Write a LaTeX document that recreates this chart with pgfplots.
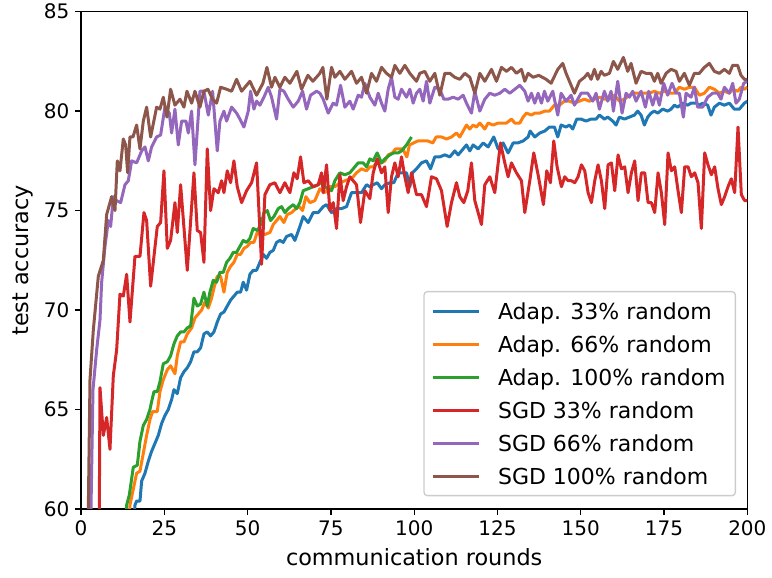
\documentclass[border=0pt]{standalone}
\usepackage{fontspec}
\setmainfont{DejaVu Sans}
\usepackage{pgfplots}
\pgfplotsset{compat=1.18}
\definecolor{c0}{HTML}{1F77B4}
\definecolor{c1}{HTML}{FF7F0E}
\definecolor{c2}{HTML}{2CA02C}
\definecolor{c3}{HTML}{D62728}
\definecolor{c4}{HTML}{9467BD}
\definecolor{c5}{HTML}{8C564B}
\begin{document}
\begin{tikzpicture}
\begin{axis}[
  scale only axis, width=399.8pt, height=298.4pt,
  xmin=0, xmax=200, ymin=60, ymax=85,
  xtick={0,25,...,200}, ytick={60,65,...,85},
  tick pos=left, tick align=outside, major tick length=3.5pt,
  every tick/.style={black, line width=0.8pt},
  axis line style={line width=0.8pt},
  /pgf/number format/assume math mode=true,
  ticklabel style={font=\fontsize{12}{14}\selectfont},
  xlabel={communication rounds}, ylabel={test accuracy},
  label style={font=\fontsize{13.4}{16}\selectfont},
  xlabel style={at={(axis description cs:0.5,-0.0965)}, anchor=center},
  ylabel style={at={(axis description cs:-0.087,0.5)}, anchor=center},
  legend style={at={(1,0)}, anchor=south east, xshift=-6.8pt, yshift=7.6pt,
    draw=black!20, line width=0.8pt, rounded corners=2pt, fill=white,
    font=\fontsize{13.2}{16}\selectfont, inner xsep=4.2pt, inner ysep=1.8pt,
    column sep=8.8pt,
    nodes={inner xsep=1.6pt, inner ysep=5pt, text height=9.8pt, text depth=0pt}},
  legend cell align=left,
  legend image code/.code={\draw[#1] (0pt,0pt) -- (28pt,0pt);},
  every axis plot/.append style={line width=1.8pt, line join=round},
]
\addplot[c0] coordinates {(14,55) (16.2,60.2) (16.7,60.4) (17.7,60.4) (18.2,61.4) (19.2,61.8) (20.2,62.4) (21.2,62.9) (22.2,63.3) (23.2,63.7) (24.2,64.3) (25.2,64.7) (26.2,65.0) (27.2,65.5) (27.9,66.0) (28.9,65.8) (29.9,66.6) (30.9,66.9) (31.9,67.1) (32.9,67.4) (33.9,67.9) (34.9,67.9) (35.9,68.1) (36.9,68.8) (37.9,68.9) (38.9,68.7) (39.9,68.9) (40.9,69.4) (41.9,69.8) (42.9,69.9) (43.9,70.2) (44.9,70.5) (45.9,70.7) (46.9,70.9) (47.9,70.9) (48.7,71.4) (49.7,71.0) (50.7,71.8) (51.7,72.0) (52.7,72.0) (53.7,72.4) (54.7,72.8) (55.7,72.6) (56.7,72.9) (57.7,73.0) (58.7,73.4) (59.7,73.5) (60.7,73.4) (61.7,73.7) (63.2,73.8) (64.2,73.5) (65.7,74.2) (66.7,74.7) (68.2,74.4) (69.7,74.9) (71.2,74.9) (72.7,75.2) (73.7,75.3) (75.2,74.9) (76.7,75.1) (78.2,75.1) (79.7,75.2) (81.2,75.9) (82.7,75.9) (84.2,75.9) (85.7,76.3) (86.7,76.2) (87.7,76.3) (88.9,76.4) (90.2,76.1) (91.2,76.3) (92.7,76.4) (93.9,76.4) (95.2,76.9) (96.5,76.9) (97.7,76.9) (98.7,76.2) (99.5,76.9) (100.7,77.1) (102.2,77.4) (103.7,77.5) (104.9,77.1) (106.2,77.7) (107.7,77.7) (109.2,77.8) (110.7,77.7) (112.2,78.0) (113.2,77.8) (114.7,78.1) (115.7,78.3) (116.7,78.0) (117.7,78.3) (119.2,78.1) (120.7,78.4) (122.2,78.2) (123.9,78.7) (125.2,78.1) (126.7,78.4) (128.2,77.9) (129.7,78.4) (131.1,78.4) (132.7,78.5) (134.2,78.7) (134.8,79.0) (136.2,78.7) (137.7,78.9) (139.2,79.0) (140.6,79.2) (142.1,79.2) (143.1,78.7) (144.1,79.3) (145.6,79.2) (146.6,79.3) (147.6,79.1) (148.8,79.6) (150.1,79.6) (151.6,79.5) (153.1,79.6) (154.6,79.6) (155.6,79.8) (157.1,79.6) (158.1,79.7) (159.6,79.5) (160.6,79.3) (161.6,79.7) (163.1,79.6) (164.6,79.7) (166.1,79.8) (167.1,80.0) (168.1,79.8) (169.1,79.3) (170.1,79.7) (171.1,79.9) (172.1,80.0) (173.1,79.9) (174.6,80.1) (176.1,80.0) (177.1,80.1) (178.1,80.3) (179.1,80.2) (180.6,80.4) (182.1,80.3) (183.1,80.4) (184.6,80.4) (185.6,80.3) (186.6,80.4) (188.1,80.3) (189.1,79.8) (190.1,80.2) (191.6,80.4) (193.1,80.3) (194.6,80.4) (196.1,80.1) (197.6,80.1) (199.1,80.4) (200,80.5)};
\addlegendentry{Adap. 33\% random}
\addplot[c1] coordinates {(13,56) (14.7,60.2) (15.7,61.0) (16.7,61.8) (17.7,61.9) (18.7,62.8) (19.7,63.7) (20.7,64.5) (21.5,64.9) (22.9,64.9) (23.7,65.9) (24.7,66.5) (25.9,67.0) (26.9,67.2) (28.2,66.8) (28.9,67.7) (29.9,68.4) (30.9,68.4) (31.9,68.8) (33.2,69.1) (34.2,69.6) (35.2,69.8) (36.2,70.0) (37.2,70.4) (38.2,70.1) (39.2,70.6) (39.9,71.1) (40.9,71.7) (41.9,71.7) (42.9,70.9) (43.9,71.9) (44.9,72.2) (45.9,72.4) (46.9,72.8) (47.9,72.8) (48.9,73.1) (49.9,73.2) (50.9,73.4) (51.9,73.4) (52.9,73.9) (53.7,73.8) (55.2,73.8) (56.7,73.9) (57.7,74.3) (58.7,74.5) (59.7,74.7) (60.9,74.4) (61.9,74.8) (63.2,74.9) (64.5,75.1) (65.5,75.2) (66.5,75.0) (67.5,75.7) (68.7,75.4) (70.2,75.5) (71.7,76.1) (73.2,75.9) (74.7,76.2) (76.2,76.2) (77.7,76.4) (79.2,76.5) (80.7,76.6) (81.7,76.7) (82.7,76.9) (84.2,77.1) (85.7,77.0) (86.7,77.2) (87.7,77.2) (88.7,77.4) (90.2,77.4) (91.2,77.5) (92.2,77.8) (93.5,77.9) (94.4,78.1) (95.4,78.1) (96.6,78.1) (97.8,77.7) (98.6,78.3) (99.8,78.4) (101.1,78.5) (102.6,78.5) (104.1,78.5) (105.6,78.4) (106.6,78.7) (108.2,78.7) (109.7,78.6) (111.2,78.7) (112.7,78.9) (113.7,78.7) (114.7,79.0) (115.7,79.3) (116.7,79.1) (117.7,79.3) (118.7,79.2) (119.7,79.4) (121.2,79.1) (122.2,79.4) (123.7,79.3) (125.2,79.4) (126.7,79.4) (127.7,79.4) (129.2,79.6) (130.2,79.4) (131.7,79.4) (132.7,79.7) (133.7,79.9) (135.2,79.8) (136.2,79.9) (137.7,79.9) (139.2,80.0) (140.6,80.0) (142.1,80.3) (143.6,80.3) (145.1,80.5) (146.6,80.5) (148.1,80.4) (149.6,80.5) (151.1,80.6) (152.6,80.5) (154.1,80.6) (155.6,80.7) (157.1,80.6) (158.6,80.6) (160.1,80.8) (161.6,80.5) (163.1,80.6) (164.6,80.8) (166.1,80.9) (167.6,80.9) (169.1,80.9) (170.6,80.9) (172.1,81.0) (173.6,80.9) (175.1,81.0) (176.6,80.9) (178.1,80.9) (179.6,81.2) (181.1,81.1) (182.6,81.2) (184.1,81.2) (185.6,80.8) (187.1,80.9) (188.6,81.2) (190.1,81.1) (191.6,80.9) (193.1,81.0) (194.6,80.9) (195.6,81.1) (197.1,81.0) (198.1,81.2) (199.1,81.1) (200,81.2)};
\addlegendentry{Adap. 66\% random}
\addplot[c2] coordinates {(12,56) (13.7,60.2) (14.5,60.7) (15.7,62.1) (16.9,62.2) (17.7,63.4) (18.7,64.2) (19.7,64.5) (20.7,65.0) (21.2,65.4) (21.9,65.9) (22.9,65.9) (23.7,66.4) (24.7,67.3) (25.9,67.4) (26.9,67.7) (27.9,68.3) (28.9,68.7) (29.9,68.9) (30.9,68.9) (31.9,69.1) (32.9,69.2) (33.9,70.6) (34.9,70.2) (35.9,70.3) (36.9,70.9) (37.9,70.2) (38.7,70.9) (39.7,71.5) (40.7,71.4) (41.7,71.9) (42.7,71.9) (43.7,72.4) (44.7,72.6) (45.7,72.9) (46.7,72.9) (47.7,73.2) (48.7,73.5) (49.7,73.4) (50.7,73.6) (51.7,74.1) (53,74.0) (54.2,74.4) (54.9,74.9) (55.9,75.0) (56.9,74.5) (57.9,74.7) (59.2,75.1) (60.2,75.2) (61.2,74.9) (62.2,75.1) (63.7,75.3) (64.7,75.1) (65.7,75.4) (66.7,76.0) (68.2,76.1) (69.7,76.2) (71.2,76.3) (72.7,76.5) (73.2,76.2) (75.2,76.0) (76.2,76.5) (77.7,76.9) (79.2,76.8) (80.7,76.9) (81.7,77.1) (83.2,77.4) (84.7,77.4) (85.7,77.2) (86.7,77.6) (87.7,77.5) (88.9,77.9) (90.2,77.4) (91.2,77.6) (92.7,77.8) (93.9,77.9) (95.2,77.9) (96.2,78.0) (97.7,78.3) (99.2,78.7)};
\addlegendentry{Adap. 100\% random}
\addplot[c3] coordinates {(5,45) (5.7,66.1) (6.7,63.7) (7.7,64.6) (8.7,63.0) (9.7,66.7) (10.7,68.0) (11.7,70.8) (12.7,70.7) (13.7,71.8) (14.7,69.4) (16.2,72.7) (17.7,72.7) (18.9,74.9) (19.7,74.5) (20.9,71.2) (22.9,74.2) (23.9,74.4) (24.9,77.0) (25.9,73.1) (26.9,73.5) (28.2,75.4) (28.9,73.9) (29.9,76.3) (31.9,72.0) (33.9,76.9) (34.9,74.0) (35.9,73.9) (36.9,72.4) (37.9,78.1) (38.9,75.0) (39.9,76.1) (41.2,75.9) (42.2,76.5) (42.9,75.9) (43.9,77.0) (44.9,76.4) (45.9,77.5) (46.9,76.2) (48.2,75.4) (49.7,76.0) (51.2,76.4) (52.7,77.4) (54.2,72.3) (55.2,75.8) (56.7,76.3) (58.2,76.4) (59.7,75.9) (61.2,76.4) (62.7,75.9) (63.9,76.9) (64.9,76.6) (65.9,77.7) (66.9,76.4) (68.2,76.5) (69.7,76.2) (71.2,76.3) (72.2,76.9) (72.7,75.9) (73.7,77.3) (74.7,75.0) (75.7,75.4) (76.7,74.1) (77.7,76.8) (78.7,75.5) (79.7,76.2) (80.7,76.7) (81.7,76.5) (82.7,76.3) (83.9,74.4) (85.2,76.0) (86.7,75.6) (87.7,76.9) (88.9,77.6) (90.2,76.9) (91.2,77.2) (92.2,74.9) (93.2,76.7) (94.2,77.4) (95.2,76.7) (96.2,77.7) (97.2,76.7) (98.2,75.9) (99.2,76.9) (100.7,75.8) (102.2,75.8) (103.7,75.2) (105.2,76.7) (106.7,76.6) (108.2,76.0) (109.9,74.2) (111.2,75.4) (112.7,76.4) (113.7,75.7) (114.9,75.4) (116.1,76.0) (117.2,77.4) (118.2,75.5) (119.2,74.9) (120.2,74.3) (121.2,76.3) (122.7,76.7) (124.2,75.9) (125.9,78.4) (127.2,77.4) (128.2,76.7) (129.2,77.4) (130.7,76.9) (132.2,76.5) (133.2,74.9) (134.7,76.5) (135.9,77.9) (137.2,76.8) (138.8,75.3) (139.8,77.0) (140.9,76.4) (141.9,78.5) (142.9,77.2) (144.2,76.2) (145.2,76.7) (146.2,76.5) (147.2,76.5) (148.2,76.4) (149.2,76.7) (150.2,77.3) (151.2,77.0) (152.2,75.9) (153.2,75.4) (154.2,76.5) (155.2,77.3) (156.2,76.5) (157.2,75.1) (158.2,77.3) (159.2,77.4) (160.2,76.0) (161.2,77.8) (162.2,77.1) (163.2,77.2) (164.2,75.9) (165.2,76.9) (166.2,77.5) (167.2,75.5) (168.2,76.9) (169.2,76.9) (170.2,75.4) (171.2,75.4) (172.2,74.9) (173.2,76.9) (174.2,75.9) (175.2,74.3) (176.2,77.9) (177.2,77.0) (178.2,77.2) (179.2,76.0) (180.2,74.9) (181.2,77.2) (182.2,77.2) (183.2,76.7) (184.2,76.9) (185.2,76.4) (186.2,74.1) (187.2,77.9) (188.2,77.3) (189.2,76.8) (190.2,77.2) (191.2,76.1) (192.2,75.3) (193.2,75.7) (194.2,76.2) (195.2,76.6) (196.2,75.9) (197.2,79.2) (198.2,75.8) (199.2,75.5) (200,75.5)};
\addlegendentry{SGD 33\% random}
\addplot[c4] coordinates {(2,50) (3,60) (3.6,66) (4.7,68) (5.7,69.5) (6.2,71.4) (7.2,73.2) (8.2,74.5) (8.9,74.2) (9.7,75.7) (10.7,75.5) (11.9,75.4) (13.2,76.3) (14.2,76.5) (15.2,77.5) (16.7,77.4) (18.2,78.0) (19.2,78.2) (20.2,77.5) (21.2,78.2) (22.7,78.7) (23.9,78.8) (25.2,80.2) (26.5,79.9) (27.2,78.9) (28.2,80.1) (29.2,78.3) (30.2,79.5) (31.5,79.5) (32.2,78.9) (33.2,80.0) (34.2,77.3) (35.7,81.0) (36.9,81.0) (38.2,79.8) (39.5,81.0) (40.9,78.0) (41.7,79.5) (42.9,80.0) (43.7,79.5) (45.2,80.2) (46.7,79.9) (47.7,79.6) (48.9,79.2) (50.2,80.0) (50.9,81.0) (51.9,80.1) (52.7,80.5) (53.7,80.3) (54.9,80.7) (56.2,81.2) (57.2,80.7) (58.7,79.6) (59.7,81.1) (60.9,81.0) (62.2,80.6) (63.7,80.2) (65.2,80.5) (66.5,81.0) (67.7,80.1) (68.9,80.8) (70.7,81.0) (71.7,80.9) (72.7,80.6) (74.2,79.9) (75.7,80.4) (76.7,80.3) (77.9,81.3) (79.2,80.2) (80.7,80.5) (81.7,80.1) (83.2,80.8) (84.2,80.7) (85.2,81.4) (86.7,80.7) (88.2,80.3) (89.2,80.9) (90.2,80.4) (91.2,80.0) (92.2,81.1) (93.2,81.7) (94.2,80.7) (95.2,80.6) (96.2,81.1) (97.7,80.7) (98.7,81.1) (99.7,80.4) (100.7,80.9) (101.7,81.1) (102.7,80.5) (103.7,81.5) (104.7,80.4) (106.2,81.2) (107.7,81.1) (108.9,80.6) (110.2,80.6) (111.7,80.7) (113.2,80.6) (114.7,80.8) (115.7,80.4) (117.2,79.9) (118.2,81.0) (119.7,80.0) (121.2,80.6) (122.7,80.9) (124.2,80.8) (125.7,80.9) (127.2,81.1) (128.7,80.9) (130.2,81.1) (131.7,81.3) (133.2,81.0) (134.2,80.5) (135.2,80.9) (136.2,80.4) (137.2,80.9) (138.2,80.4) (139.1,81.0) (140.1,80.5) (141.6,81.0) (143.1,79.8) (144.1,80.9) (145.6,80.5) (147.1,80.8) (148.1,80.3) (149.1,80.6) (150.1,80.9) (152.1,80.9) (153.6,80.5) (154.6,80.9) (155.6,80.1) (157.1,81.0) (158.1,80.5) (159.1,81.0) (159.8,80.0) (161.1,81.5) (162.4,79.9) (163.6,80.9) (164.6,80.7) (165.6,81.0) (166.6,80.5) (168.1,81.0) (169.4,80.2) (170.4,81.0) (171.6,80.3) (172.6,80.9) (173.6,80.3) (174.9,81.4) (176.1,80.8) (177.4,81.4) (178.6,80.9) (179.6,80.9) (180.8,79.7) (181.6,80.9) (183.1,80.7) (184.1,81.2) (185.1,80.2) (186.6,80.2) (188.1,80.7) (189.6,80.9) (191.1,80.9) (192.1,80.6) (193.1,81.2) (194.6,80.9) (195.6,81.4) (196.6,80.4) (197.6,80.6) (198.9,81.4) (200,81.5)};
\addlegendentry{SGD 66\% random}
\addplot[c5] coordinates {(1,40) (2.2,60) (2.7,66.5) (3.7,69.0) (5.2,71.7) (6.7,72.5) (7.7,74.8) (9.2,75.7) (10.2,75.0) (10.9,77.5) (11.7,77.0) (12.7,78.6) (13.4,78.3) (14,76.9) (14.7,78.7) (15.6,78.7) (16.7,79.3) (17.7,78.1) (18.7,79.5) (19.7,80.2) (20.9,78.7) (22.7,80.2) (23.7,80.1) (24.7,80.7) (25.8,79.7) (26.9,81.1) (28.2,80.3) (29.7,80.6) (30.9,80.2) (31.8,81.0) (33.2,80.4) (34.2,81.0) (35.7,80.2) (36.9,81.0) (38.1,81.1) (39.5,80.6) (40.7,80.4) (41.9,81.2) (43.7,81.1) (45.2,81.0) (46.7,81.6) (48.2,81.0) (50.7,81.5) (52.7,80.8) (54.6,81.4) (55.8,82.2) (57.2,81.2) (58.2,81.7) (59.7,81.2) (61.2,81.7) (62.7,81.4) (64.8,82.0) (66.2,81.1) (68.1,81.8) (69.6,81.5) (71.7,81.9) (72.6,82.2) (73.8,80.6) (75.2,82.2) (76.2,81.7) (77.7,82.0) (79.2,81.6) (81.2,82.0) (82.7,81.4) (84.2,81.7) (85.7,80.9) (87.2,81.9) (88.7,81.5) (90.2,82.2) (91.7,81.9) (93.2,81.7) (94.2,82.3) (95.7,81.9) (97.2,82.3) (98.7,81.9) (100.7,81.5) (101.7,81.9) (103.2,82.0) (104.7,81.5) (106.2,81.9) (107.7,80.8) (109.2,81.9) (110.7,81.9) (112.2,81.7) (113.7,81.6) (115.2,81.9) (116.7,81.7) (118.2,80.9) (119.7,81.9) (121.2,81.5) (123.2,82.1) (124.7,81.5) (126.2,82.2) (127.7,82.0) (129.2,82.2) (130.7,81.9) (132.2,82.1) (133.2,81.5) (134.2,81.9) (135.7,81.7) (137.4,81.8) (139.6,81.6) (141.1,81.4) (143.1,82.1) (144.6,82.4) (145.6,81.9) (147.1,81.3) (148.1,80.9) (149.6,81.5) (151.1,81.7) (152.1,81.9) (153.1,81.6) (154.1,82.1) (155.1,81.6) (156.1,82.0) (157.1,81.8) (158.6,81.9) (159.8,82.5) (161.1,82.1) (162.8,82.7) (164.1,82.0) (165.1,82.4) (166.6,81.4) (168.1,82.0) (169.6,81.9) (171.1,81.9) (172.1,81.5) (173.1,81.9) (174.1,81.4) (175.6,81.9) (177.1,82.1) (178.6,82.0) (179.6,81.5) (181.1,81.9) (182.6,81.3) (184.1,81.9) (185.6,81.9) (187.1,82.2) (188.6,82.4) (190.1,82.0) (191.6,81.9) (193.1,82.1) (194.6,81.9) (195.6,82.3) (197.1,82.3) (198.1,81.8) (199.1,81.6) (200,81.6)};
\addlegendentry{SGD 100\% random}
\coordinate (bl) at (rel axis cs:0,0);
\coordinate (tr) at (rel axis cs:1,1);
\end{axis}
\pgfresetboundingbox
\path ([shift={(-48.6pt,-41.4pt)}]bl) rectangle ([shift={(14.8pt,7pt)}]tr);
\end{tikzpicture}
\end{document}
